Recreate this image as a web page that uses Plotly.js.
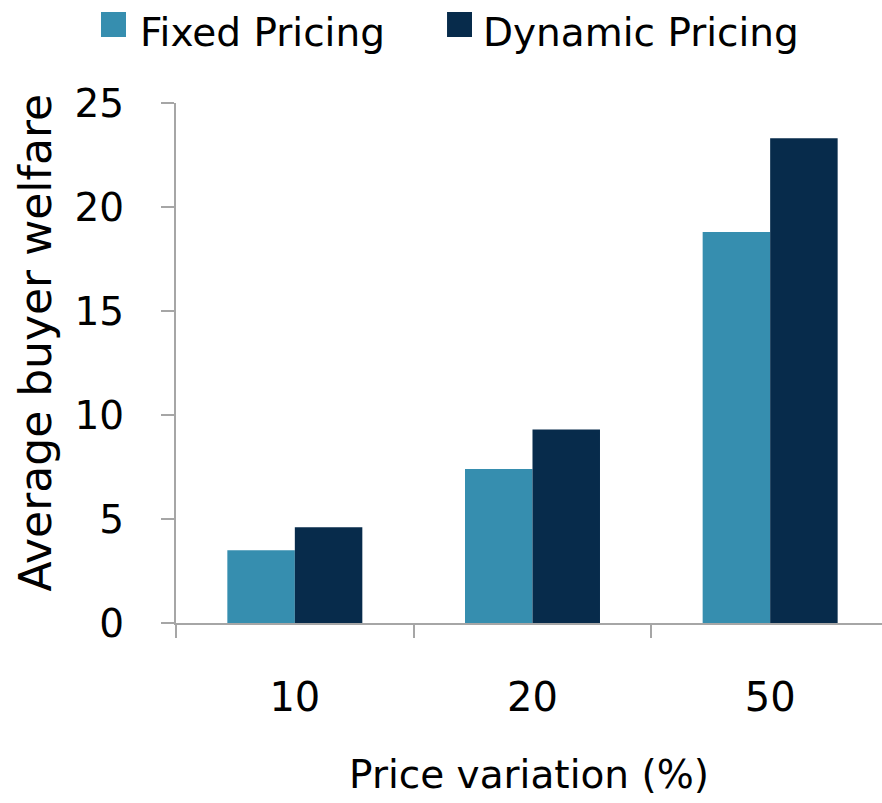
<!DOCTYPE html>
<html>
<head>
<meta charset="utf-8">
<script src="https://cdn.plot.ly/plotly-3.0.1.min.js"></script>
<style>html,body{margin:0;padding:0;background:#fff;}#chart{width:882px;height:803px;}</style>
</head>
<body>
<div id="chart"></div>
<script>
// Data
const categories = ["10", "20", "50"];
const fixedPricing = [3.5, 7.4, 18.8];
const dynamicPricing = [4.6, 9.3, 23.3];
const seriesNames = ["Fixed Pricing", "Dynamic Pricing"];
const seriesColors = ["#368EAF", "#072B4B"];
const yTicks = [0, 5, 10, 15, 20, 25];
const xTitle = "Price variation (%)";
const yTitle = "Average buyer welfare";

const FONT = "DejaVu Sans, sans-serif";
const AXIS_COLOR = "#A6A6A6";

const traces = [
  {type: "bar", name: seriesNames[0], x: categories, y: fixedPricing,
   marker: {color: seriesColors[0]}, showlegend: false},
  {type: "bar", name: seriesNames[1], x: categories, y: dynamicPricing,
   marker: {color: seriesColors[1]}, showlegend: false}
];

// custom legend (large square swatches like the reference)
const legendSwatchX = [[-0.1062, -0.0708], [0.3839, 0.4193]];
const legendTextX = [-0.0538, 0.432];
const shapes = seriesNames.map((n, i) => ({
  type: "rect", xref: "paper", yref: "paper",
  x0: legendSwatchX[i][0], x1: legendSwatchX[i][1], y0: 1.1269, y1: 1.175,
  fillcolor: seriesColors[i], line: {width: 0}
}));
const annotations = seriesNames.map((n, i) => ({
  text: n, xref: "paper", yref: "paper", x: legendTextX[i], y: 1.1365,
  xanchor: "left", yanchor: "middle", showarrow: false,
  font: {family: FONT, size: 39, color: "#000"}
}));
// y-axis title (placed slightly above the plot centre, as in the reference)
annotations.push({
  text: yTitle, xref: "paper", yref: "paper", x: -0.199, y: 0.5385,
  xanchor: "center", yanchor: "middle", textangle: -90, showarrow: false,
  font: {family: FONT, size: 44, color: "#000"}
});

const layout = {
  width: 882, height: 803,
  margin: {l: 176, r: 0, t: 103, b: 180, pad: 0},
  paper_bgcolor: "#fff", plot_bgcolor: "#fff",
  barmode: "group", bargap: 0.432, bargroupgap: 0,
  showlegend: false,
  font: {family: FONT, color: "#000"},
  xaxis: {
    type: "category", range: [-0.5, 2.4706], fixedrange: true,
    showline: true, linecolor: AXIS_COLOR, linewidth: 2,
    ticks: "outside", tickson: "boundaries", ticklen: 13, tickwidth: 2, tickcolor: AXIS_COLOR,
    tickfont: {family: FONT, size: 40, color: "#000"},
    ticklabelstandoff: 38,
    showgrid: false, zeroline: false, automargin: false,
    title: {text: xTitle, font: {family: FONT, size: 39, color: "#000"}, standoff: 42}
  },
  yaxis: {
    range: [0, 25], tickvals: yTicks, fixedrange: true,
    showline: true, linecolor: AXIS_COLOR, linewidth: 2,
    ticks: "outside", ticklen: 13, tickwidth: 2, tickcolor: AXIS_COLOR,
    tickfont: {family: FONT, size: 39, color: "#000"},
    ticklabelstandoff: 29,
    showgrid: false, zeroline: false, automargin: false
  },
  shapes: shapes,
  annotations: annotations
};

Plotly.newPlot("chart", traces, layout, {displayModeBar: false, staticPlot: true});
</script>
</body>
</html>
